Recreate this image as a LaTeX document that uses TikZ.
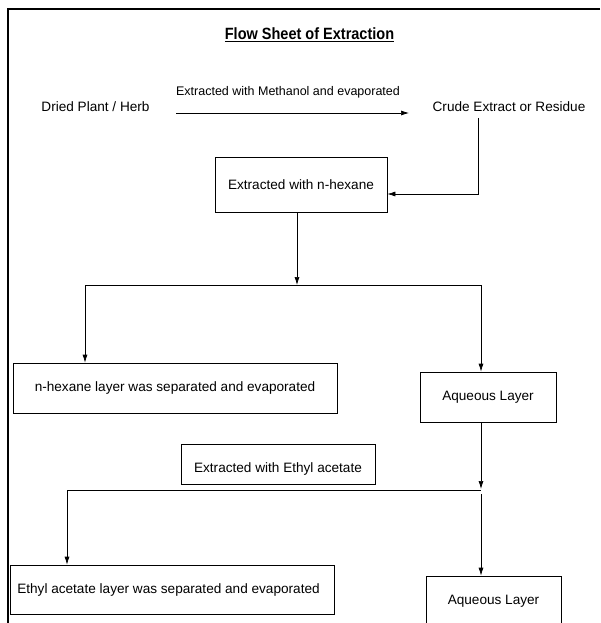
\documentclass[tikz,border=0pt]{standalone}
\usepackage{fontspec}
\setmainfont{Liberation Sans}
\usetikzlibrary{arrows.meta}
\tikzset{
  plain/.style={inner sep=0pt, font=\fontsize{13.6}{16}\selectfont},
  stepbox/.style={draw, line width=0.7pt, inner sep=0pt, font=\fontsize{13.6}{16}\selectfont},
  arr/.style={line width=0.7pt, -{Latex[length=8pt,width=5pt]}},
  conn/.style={line width=0.7pt}
}
\begin{document}
\begin{tikzpicture}[x=1pt,y=-1pt]
    \useasboundingbox (0,0) rectangle (600,623);
    \draw[line width=2pt] (600,9) -| (8,623);
    \node[plain, anchor=base, font=\fontsize{16.3}{19}\selectfont\bfseries] (title) at (309.5,40) {\scalebox{0.89}[1]{\underline{Flow Sheet of Extraction}}};
    \node[plain] (dried) at (95.5,107) {Dried Plant / Herb};
    \node[plain] (crude) at (509,107) {Crude Extract or Residue};
    \node[plain, font=\fontsize{12.5}{15}\selectfont] (meth) at (288,92.5) {Extracted with Methanol and evaporated};
    \coordinate (mA) at (176,113);
    \coordinate (mB) at (409,113);
    \draw[arr] (mA) -- (mB);
    \node[stepbox, minimum width=172pt, minimum height=55pt] (hex) at (301,184.5) {Extracted with n-hexane};
    \coordinate (cr) at (478,118);
    \draw[arr] (cr) |- ([yshift=-9.5pt]hex.east);
    \coordinate (j1) at (297,285);
    \coordinate (l1) at (85,285);
    \coordinate (r1) at (481,285);
    \draw[arr] (hex.south -| j1) -- (j1);
    \draw[conn] (l1) -- (r1);
    \node[stepbox, minimum width=324pt, minimum height=50pt] (hexl) at (175,388) {n-hexane layer was separated and evaporated};
    \node[stepbox, minimum width=136pt, minimum height=50pt] (aq1) at (488,397) {Aqueous Layer};
    \draw[arr] (l1) -- (l1 |- hexl.north);
    \draw[arr] (r1) -- (r1 |- aq1.north);
    \node[stepbox, minimum width=194pt, minimum height=40pt, text height=20pt, text depth=3pt] (eth) at (278,464) {Extracted with Ethyl acetate};
    \coordinate (j2) at (481,489);
    \coordinate (l2) at (67,490);
    \coordinate (j3) at (481,494);
    \draw[arr] (aq1.south -| j2) -- (j2);
    \draw[conn] (l2) -- (j2 |- l2);
    \node[stepbox, minimum width=324pt, minimum height=49pt] (etl) at (172,589.5) {\hspace{-7pt}Ethyl acetate layer was separated and evaporated};
    \node[stepbox, minimum width=135pt, minimum height=50pt] (aq2) at (493.5,601) {Aqueous Layer};
    \draw[arr] (l2) -- (l2 |- etl.north);
    \draw[arr] (j3) -- (j3 |- aq2.north);
\end{tikzpicture}
\end{document}
